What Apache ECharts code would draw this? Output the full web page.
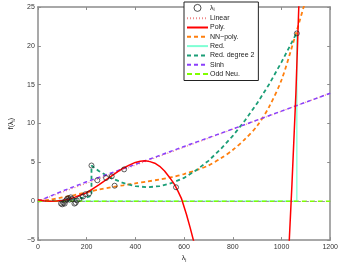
<!DOCTYPE html>
<html><head><meta charset="utf-8">
<script src="https://cdn.jsdelivr.net/npm/echarts@6/dist/echarts.min.js"></script>
<style>html,body{margin:0;padding:0;background:#fff}#c{width:341px;height:268px}</style>
</head><body><div id="c"></div>
<script>
const lambdaPts = [[95,-0.3],[100,-0.4],[105,-0.2],[110,-0.3],[115,0.1],[120,0.3],[125,0.4],[130,0.2],[135,0.5],[140,0.3],[150,-0.3],[155,-0.2],[160,0.1],[170,0.3],[185,0.6],[195,0.9],[210,1.0],[220,4.6],[244,2.7],[280,3.0],[303,3.2],[315,2.0],[354,4.1],[567,1.8],[1063,21.6]];
const linearLine = [[0,0],[1200,13.9]];
const polyLine = [[0,0.2],[25,0.05],[50,0],[75,0.02],[100,0.1],[125,0.25],[150,0.5],[175,0.8],[200,1.1],[225,1.6],[250,2.1],[275,2.65],[300,3.2],[325,3.75],[350,4.25],[375,4.65],[400,5.0],[420,5.15],[440,5.2],[460,5.1],[480,4.9],[500,4.5],[520,3.9],[540,3.1],[560,2.2],[575,1.3],[590,0.3],[600,-0.7],[610,-1.7],[625,-3.4],[640,-5.2],[680,-12],[750,-25],[850,-40],[950,-35],[1000,-28],[1020,-14],[1032,-5],[1043,2.2],[1059,13.8],[1071,25],[1080,33]];
const nnPolyLine = [[0,0],[50,0.2],[100,0.5],[150,0.8],[200,1.15],[250,1.5],[300,1.8],[350,2.05],[400,2.3],[450,2.55],[500,2.8],[550,3.1],[600,3.5],[650,4.0],[700,4.6],[750,5.5],[800,6.6],[850,8.0],[900,9.7],[950,12.2],[1000,15.6],[1050,20.6],[1091,25],[1100,26]];
const redLine = [[0,0],[1063,0],[1063,21.7]];
const redDeg2Line = [[0,0],[100,0.1],[200,0.5],[220,0.7],[220,4.6],[250,3.9],[300,3.0],[350,2.35],[400,1.95],[450,1.8],[500,1.95],[550,2.35],[600,3.0],[650,4.0],[700,5.2],[750,6.7],[800,8.4],[850,10.4],[900,12.6],[950,15.1],[1000,17.9],[1063,21.7]];
const sinhLine = [[0,0],[50,0.65],[100,1.3],[200,2.5],[400,4.75],[600,7.05],[800,9.3],[1000,11.6],[1200,13.9]];
const oddNeuLine = [[0,0],[1200,0]];
const names = ['λ{sub|i}','Linear','Poly.','NN\u2212poly.','Red.','Red. degree 2','Sinh','Odd Neu.'];

const chart = echarts.init(document.getElementById('c'), null, {renderer:'canvas'});
const font = 'Liberation Sans, Arial, sans-serif';
const axisCommon = {
  axisLine:{show:true,onZero:false,lineStyle:{color:'#8c8c8c',width:1.5}},
  axisTick:{show:true,inside:true,length:3,lineStyle:{color:'#8c8c8c',width:1}},
  splitLine:{show:false}
};
const minus = v => String(v).replace('-', '\u2212');
function line(name, data, color, width, type, z){
  return {name, type:'line', data, symbol:'none', lineStyle:{color, width, type}, itemStyle:{color}, z:z||2, animation:false};
}
const legendData = names.map((n,i) => i === 0
  ? {name:n, icon:'path://M5,1a4,4 0 1,0 0.001,0z', itemStyle:{opacity:1,color:'rgba(255,255,255,0)',borderColor:'#222',borderWidth:0.8}}
  : {name:n, itemStyle:{opacity:0}});
chart.setOption({
  animation:false,
  grid:{left:26,right:10,top:7,bottom:20,show:false},
  legend:{
    left:184, top:2, orient:'vertical', itemWidth:21, itemHeight:7, itemGap:2.3,
    backgroundColor:'#fff', borderColor:'#222', borderWidth:1, padding:[2,4,3,2],
    textStyle:{fontSize:7,fontFamily:font,color:'#222',padding:[0,0,0,-3],rich:{sub:{fontSize:5,verticalAlign:'bottom',padding:[4,0,0,0]}}},
    data:legendData
  },
  xAxis:[
    Object.assign({type:'value',min:0,max:1200,interval:200,position:'bottom',
      name:'λ{sub|i}',nameLocation:'middle',nameGap:9,
      nameTextStyle:{fontSize:7,fontFamily:font,color:'#222',rich:{sub:{fontSize:5,padding:[4,0,0,0]}}},
      axisLabel:{fontSize:7,fontFamily:font,color:'#333',margin:3,formatter:minus}}, axisCommon),
    Object.assign({type:'value',min:0,max:1200,interval:200,position:'top',axisLabel:{show:false}}, axisCommon)
  ],
  yAxis:[
    Object.assign({type:'value',min:-5,max:25,interval:5,position:'left',
      name:'f(λ{sub|i})',nameLocation:'middle',nameGap:14,nameRotate:90,
      nameTextStyle:{fontSize:7,fontFamily:font,color:'#222',rich:{sub:{fontSize:5,padding:[4,0,0,0]}}},
      axisLabel:{fontSize:7,fontFamily:font,color:'#333',margin:3,formatter:minus}}, axisCommon),
    Object.assign({type:'value',min:-5,max:25,interval:5,position:'right',axisLabel:{show:false}}, axisCommon)
  ],
  series:[
    {name:names[0],type:'scatter',data:lambdaPts,symbol:'circle',symbolSize:5,
      itemStyle:{color:'rgba(255,255,255,0)',borderColor:'#222',borderWidth:0.9},z:6},
    line(names[1], linearLine, '#f08a8a', 1.2, [1,2], 3),
    line(names[2], polyLine, '#ff0000', 1.5, 'solid', 5),
    Object.assign(line(names[3], nnPolyLine, '#ff7f0e', 1.8, [4,3], 3),{smooth:0.3}),
    line(names[4], redLine, '#7fffd4', 1.3, 'solid', 2),
    line(names[5], redDeg2Line, '#1b9e77', 1.8, [4,3], 3),
    line(names[6], sinhLine, '#8a3ffc', 1.5, [4,3], 4),
    Object.assign(line(names[7], oddNeuLine, '#7fff00', 1.5, [5,3], 4),
      {markLine:{silent:true,symbol:'none',label:{show:false},lineStyle:{color:'#999',type:[3,5],width:1.2,dashOffset:4},data:[{yAxis:0}]}})
  ]
});
</script></body></html>
